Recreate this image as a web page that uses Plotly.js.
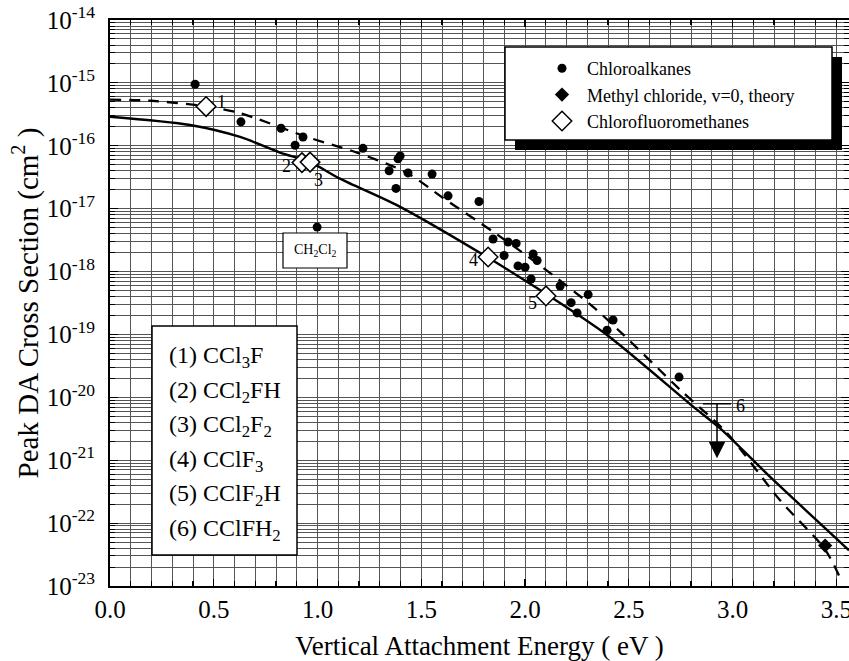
<!DOCTYPE html>
<html><head><meta charset="utf-8">
<script src="https://cdn.plot.ly/plotly-3.0.1.min.js"></script>
<style>html,body{margin:0;padding:0;background:#fff}</style>
</head><body><div id="chart" style="width:849px;height:661px"></div>
<script>
// ---- data ----
const chloroX = [0.41, 0.631, 0.824, 0.93, 0.892, 0.998, 1.219, 1.398, 1.388, 1.345, 1.436, 1.552, 1.378, 1.629, 1.778, 1.846, 1.918, 1.957, 1.899, 2.039, 2.058, 1.966, 2.0, 2.029, 2.169, 2.304, 2.222, 2.251, 2.395, 2.424, 2.742];
const chloroY = [9.5e-16, 2.4e-16, 1.9e-16, 1.38e-16, 1.02e-16, 5.1e-18, 9.1e-17, 6.9e-17, 6.2e-17, 4.0e-17, 3.7e-17, 3.55e-17, 2.1e-17, 1.6e-17, 1.3e-17, 3.3e-18, 2.95e-18, 2.8e-18, 1.8e-18, 1.9e-18, 1.5e-18, 1.23e-18, 1.17e-18, 7.6e-19, 5.9e-19, 4.3e-19, 3.2e-19, 2.2e-19, 1.17e-19, 1.7e-19, 2.1e-20];
const methylX = [3.446];
const methylY = [4.4e-23];
const cfmX = [0.463, 0.925, 0.964, 1.822, 2.101];
const cfmY = [4.2e-16, 5.4e-17, 5.5e-17, 1.7e-18, 4.1e-19];
const cfmLabels = ['1', '2', '3', '4', '5'];
const limitX = [2.925];
const limitY = [7.9e-21];
const limitLabel = ['6'];
const solidX = [0, 0.386, 0.627, 0.819, 0.964, 1.108, 1.398, 1.817, 2.106, 2.395, 2.81, 2.94, 3.195, 3.561];
const solidY = [2.9e-16, 2.14e-16, 1.38e-16, 7.8e-17, 5.5e-17, 3.0e-17, 1.07e-17, 1.7e-18, 4.3e-19, 9.8e-20, 7.1e-21, 3.2e-21, 4.9e-22, 3.7e-23];
const dashX = [0, 0.2, 0.467, 0.627, 0.949, 1.19, 1.431, 1.605, 1.846, 2.087, 2.328, 2.472, 2.747, 2.973, 3.229, 3.446, 3.52];
const dashY = [5.4e-16, 5.2e-16, 4.2e-16, 3.3e-16, 1.38e-16, 7.8e-17, 3.7e-17, 1.48e-17, 4.3e-18, 1.15e-18, 2.75e-19, 1.0e-19, 1.32e-20, 2.7e-21, 2.3e-22, 3.8e-23, 1.3e-23];
const boxLines = ['(1) CCl<sub>3</sub>F', '(2) CCl<sub>2</sub>FH', '(3) CCl<sub>2</sub>F<sub>2</sub>', '(4) CClF<sub>3</sub>', '(5) CClF<sub>2</sub>H', '(6) CClFH<sub>2</sub>'];
const decades = [-23, -22, -21, -20, -19, -18, -17, -16, -15, -14];
const xTicks = [0, 0.5, 1.0, 1.5, 2.0, 2.5, 3.0, 3.5];

// ---- layout helpers (pixel -> paper) ----
const L = 110, T = 20, W = 739, H = 566;
const px = x => (x - L) / W;
const py = y => (T + H - y) / H;
const FONT = '"Liberation Serif", "DejaVu Serif", serif';

const minorVals = [];
decades.slice(0, -1).forEach(e => { for (let m = 2; m <= 9; m++) minorVals.push(m * Math.pow(10, e)); });

const traces = [
  {x: solidX, y: solidY, mode: 'lines', line: {color: '#000', width: 2.4, shape: 'spline', smoothing: 0.8}, showlegend: false, hoverinfo: 'skip'},
  {x: dashX, y: dashY, mode: 'lines', line: {color: '#000', width: 2.3, dash: '11px,8px', shape: 'spline', smoothing: 0.8}, showlegend: false, hoverinfo: 'skip'},
  {x: chloroX, y: chloroY, mode: 'markers', name: 'Chloroalkanes', marker: {symbol: 'circle', size: 9, color: '#000'}},
  {x: methylX, y: methylY, mode: 'markers', name: 'Methyl chloride, v=0, theory', marker: {symbol: 'diamond', size: 11, color: '#000'}},
  {x: cfmX, y: cfmY, mode: 'markers', name: 'Chlorofluoromethanes', marker: {symbol: 'diamond', size: 15, color: '#fff', line: {color: '#000', width: 1.5}}},
  {x: limitX, y: limitY, mode: 'markers', showlegend: false, marker: {symbol: 'line-ew', size: 20, line: {color: '#000', width: 1.5}}}
];

const annotations = [];
const shifts = [[15, 5], [-15, -3], [8, -18], [-15, -3], [-14, -7]];
cfmX.forEach((x, i) => annotations.push({x: x, y: Math.log10(cfmY[i]), text: cfmLabels[i], showarrow: false,
  xshift: shifts[i][0], yshift: shifts[i][1], font: {family: FONT, size: 18, color: '#000'}}));
annotations.push({x: limitX[0], y: Math.log10(limitY[0]), text: limitLabel[0], showarrow: false, xshift: 23, yshift: -2,
  font: {family: FONT, size: 18, color: '#000'}});
annotations.push({x: limitX[0], y: Math.log10(limitY[0]), ax: 0, ay: 56, text: '', showarrow: true, arrowside: 'start',
  startarrowhead: 2, startarrowsize: 2.2, arrowhead: 2, arrowsize: 2.2, arrowwidth: 1.5, arrowcolor: '#000', font: {size: 1}});
boxLines.forEach((t, i) => annotations.push({xref: 'paper', yref: 'paper', x: px(167), y: py(357 + i * 34.5), xanchor: 'left', yanchor: 'middle',
  text: t, showarrow: false, font: {family: FONT, size: 24, color: '#000'}}));
annotations.push({xref: 'paper', yref: 'paper', x: px(292), y: py(250), xanchor: 'left', yanchor: 'middle', text: 'CH<sub>2</sub>Cl<sub>2</sub>', showarrow: false,
  font: {family: FONT, size: 14, color: '#000'}});

const shapes = [
  {type: 'rect', xref: 'paper', yref: 'paper', x0: px(515), x1: px(842), y0: py(150), y1: py(57), fillcolor: '#000', line: {width: 0}, layer: 'above'},
  {type: 'rect', xref: 'paper', yref: 'paper', x0: px(505), x1: px(832), y0: py(140), y1: py(47), fillcolor: '#fff', line: {color: '#000', width: 1.5}, layer: 'above'},
  {type: 'rect', xref: 'paper', yref: 'paper', x0: px(152), x1: px(297), y0: py(555), y1: py(326), fillcolor: '#fff', line: {color: '#000', width: 1.5}, layer: 'above'},
  {type: 'rect', xref: 'paper', yref: 'paper', x0: px(283), x1: px(347), y0: py(268), y1: py(233), fillcolor: '#fff', line: {color: '#000', width: 1.2}, layer: 'above'}
];

const layout = {
  width: 849, height: 661,
  margin: {l: L, r: 849 - L - W, t: T, b: 661 - T - H},
  paper_bgcolor: '#fff', plot_bgcolor: '#fff',
  font: {family: FONT, color: '#000'},
  xaxis: {range: [0, 3.561], tickvals: xTicks, ticktext: xTicks.map(v => v.toFixed(1)), showgrid: true, gridcolor: '#555', gridwidth: 1,
    ticks: 'inside', ticklen: 7, tickcolor: '#000', tickwidth: 1.2, mirror: 'ticks', showline: true, linecolor: '#000', linewidth: 2,
    tickfont: {family: FONT, size: 25, color: '#000'}, zeroline: false, ticklabeloverflow: 'allow',
    minor: {dtick: 0.1, showgrid: true, gridcolor: '#555', gridwidth: 1, ticks: 'inside', ticklen: 5, tickcolor: '#000'},
    title: {text: 'Vertical Attachment Energy ( eV )', font: {family: FONT, size: 27, color: '#000'}, standoff: 15}},
  yaxis: {type: 'log', range: [-23, -14], tickvals: decades.map(e => Math.pow(10, e)), ticktext: decades.map(e => '10<sup>' + e + '</sup>'),
    showgrid: true, gridcolor: '#555', gridwidth: 1, ticks: 'inside', ticklen: 8, tickcolor: '#000', mirror: 'ticks', showline: true,
    linecolor: '#000', linewidth: 2, tickfont: {family: FONT, size: 25, color: '#000'}, zeroline: false, ticklabelstandoff: 8,
    minor: {tickvals: minorVals, showgrid: true, gridcolor: '#555', gridwidth: 1, ticks: 'inside', ticklen: 5, tickcolor: '#000'},
    title: {text: 'Peak DA Cross Section (cm<sup>2</sup> )', font: {family: FONT, size: 29, color: '#000'}, standoff: 0}},
  showlegend: true,
  legend: {x: px(537), y: py(50), xanchor: 'left', yanchor: 'top', bgcolor: 'rgba(0,0,0,0)', borderwidth: 0, itemwidth: 40,
    font: {family: FONT, size: 18, color: '#000'}, tracegroupgap: 0},
  annotations: annotations,
  shapes: shapes
};

Plotly.newPlot('chart', traces, layout, {displayModeBar: false, staticPlot: true});
</script>
</body></html>
